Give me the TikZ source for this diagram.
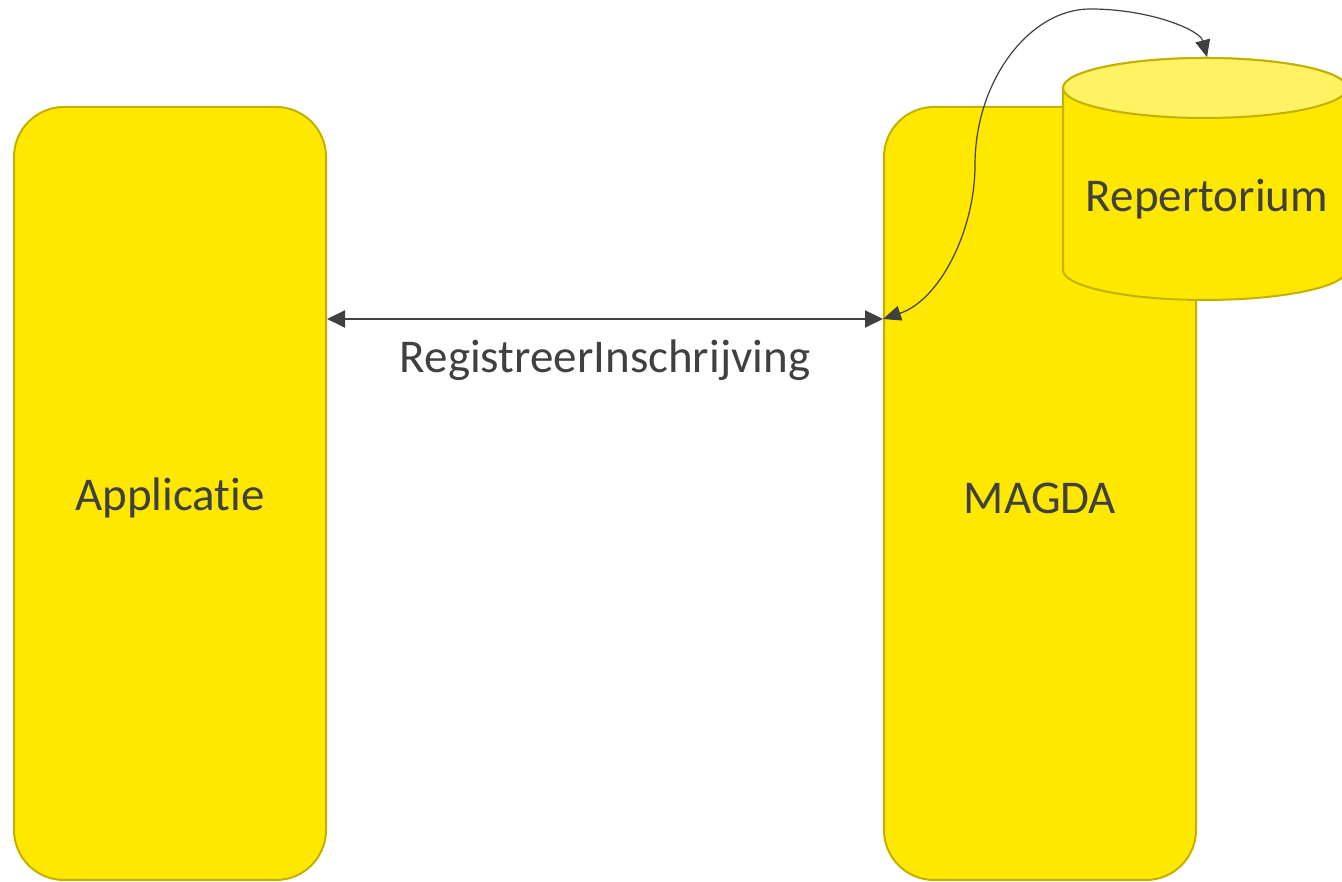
\documentclass[tikz,border=0pt]{standalone}
\usepackage{fontspec}
\setmainfont[Ligatures=NoCommon]{Carlito}
\usetikzlibrary{arrows.meta}
\definecolor{boxfill}{HTML}{FFE800}
\definecolor{boxline}{HTML}{C4B000}
\definecolor{topfill}{HTML}{FFF263}
\definecolor{txt}{HTML}{404040}
\tikzset{
  block/.style={draw=boxline, line width=2pt, fill=boxfill, rounded corners=50pt,
    minimum width=312pt, minimum height=773pt, inner sep=0pt},
  lbl/.style={text=txt, font=\fontsize{47}{52}\selectfont, inner sep=0pt},
  conn/.style={draw=txt, line width=2pt, {Triangle[length=18pt,width=17pt]}-{Triangle[length=18pt,width=17pt]}},
  loop/.style={draw=txt, line width=1.2pt, {Triangle[length=18pt,width=15pt]}-{Triangle[length=17pt,width=15pt]}},
}
\begin{document}
\begin{tikzpicture}[x=1pt,y=1pt]
\useasboundingbox (0,0) rectangle (1342,882);
\begin{scope}
\clip (0,0) rectangle (1342,882);
\node[block] (app) at (170,388.5) {};
\node[block] (magda) at (1040,388.5) {};
% cylinder
\path[draw=boxline, line width=2pt, fill=boxfill] (1063,794) -- (1063,612)
  arc[start angle=180, end angle=360, x radius=142pt, y radius=30pt] -- (1347,794)
  arc[start angle=0, end angle=180, x radius=142pt, y radius=30pt] -- cycle;
\path[draw=boxline, line width=2pt, fill=topfill] (1205,794) ellipse[x radius=142pt, y radius=30pt];
\end{scope}
\node[minimum width=284pt, minimum height=242pt, inner sep=0pt] (rep) at (1205,703) {};
\node[lbl] at (170,384) {Applicatie};
\node[lbl] at (1040,384) {MAGDA};
\node[lbl] at (1207,683) {Repertorium};
\coordinate (apR) at (app.east |- 0,563);
\coordinate (maL) at (magda.west |- 0,563);
\coordinate (repTop) at (1207,825);
\draw[conn] (apR) -- node[lbl, below=20pt] {RegistreerInschrijving} (maL);
\draw[loop] (maL) .. controls (940,582) and (975,652) .. (975,717)
  .. controls (975,802) and (1030,873) .. (1090,873)
  .. controls (1150,873) and (1200,852) .. (repTop);
\end{tikzpicture}
\end{document}
